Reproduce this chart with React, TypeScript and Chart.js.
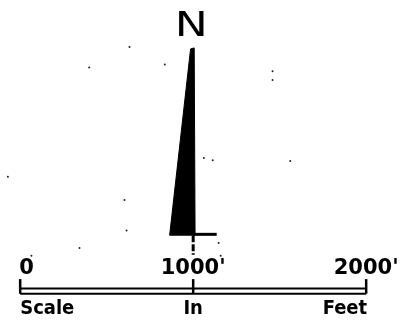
import React, { useEffect, useRef } from "react";
import { Chart, registerables } from "chart.js";

Chart.register(...registerables);

// Units: feet (map scale). 0–2000 ft scale bar.
const scaleTicks = [0, 1000, 2000];
const scaleTickLabels = ["0", "1000'", "2000'"];
const scaleWords = ["Scale", "In", "Feet"];
const barTopFt = 31;
const tickTopFt = 85;
const tickLabelFt = 113;
const wordFt = -119;

// North arrow (feet in map space)
const arrowX = [985, 1006, 1011, 864];
const arrowY = [1422, 1428, 340, 340];
const footX = [1000, 1136];
const footY = [345, 345];
const stemX = [1000, 1000];
const stemY = [340, 227];
const northLabel = "N";
const northX = 989;
const northY = 1496;

// scan specks
const speckX = [632, 399, 836, 1459, 1459, -71, 603, 615, 343, 65, 1113, 1561, 1147, 1159, 1062];
const speckY = [1433, 1314, 1331, 1292, 1241, 680, 544, 368, 266, 221, 776, 771, 295, 221, 788];

const xMin = -93.5;
const xMax = 2184;
const yMin = -170;
const yMax = 1683;

function pts(xs: number[], ys: number[]) {
  return xs.map((x, i) => ({ x, y: ys[i] }));
}

export default function App() {
  const ref = useRef<HTMLCanvasElement | null>(null);
  useEffect(() => {
    document.body.style.margin = "0";
    const canvas = ref.current!;
    const black = "#000";
    const lineDs = (data: any[], width: number, dash: number[] = []) => ({
      type: "scatter" as const,
      data,
      showLine: true,
      borderColor: black,
      borderWidth: width,
      borderDash: dash,
      pointRadius: 0,
      fill: false,
    });
    const datasets: any[] = [
      {
        ...lineDs(pts([...arrowX, arrowX[0]], [...arrowY, arrowY[0]]), 1),
        backgroundColor: black,
        fill: "shape",
      },
      lineDs(pts(footX, footY), 3),
      lineDs(pts(stemX, stemY), 3, [7, 2]),
      lineDs(pts([scaleTicks[0], scaleTicks[2]], [0, 0]), 2),
      lineDs(pts([scaleTicks[0], scaleTicks[2]], [barTopFt, barTopFt]), 2),
      ...scaleTicks.map((t) => lineDs(pts([t, t], [0, tickTopFt]), 2.5)),
      {
        type: "scatter",
        data: pts(speckX, speckY),
        pointRadius: 1,
        borderWidth: 0,
        backgroundColor: "#222",
      },
    ];
    const labelsPlugin = {
      id: "labels",
      afterDatasetsDraw(chart: any) {
        const { ctx, scales } = chart;
        const sx = scales.x, sy = scales.y;
        ctx.save();
        ctx.fillStyle = black;
        ctx.textBaseline = "alphabetic";
        ctx.save();
        ctx.translate(sx.getPixelForValue(northX), sy.getPixelForValue(northY));
        ctx.scale(1.3, 1);
        ctx.font = "34px 'DejaVu Sans'";
        ctx.textAlign = "center";
        ctx.fillText(northLabel, 0, 0);
        ctx.restore();
        ctx.font = "bold 21px 'DejaVu Sans'";
        scaleTicks.forEach((t, i) => {
          ctx.textAlign = i === 0 ? "left" : "center";
          ctx.fillText(scaleTickLabels[i], sx.getPixelForValue(t) - (i === 0 ? 1 : 0), sy.getPixelForValue(tickLabelFt));
        });
        ctx.font = "bold 20px 'DejaVu Sans Condensed', 'DejaVu Sans'";
        const aligns = ["left", "center", "right"];
        scaleTicks.forEach((t, i) => {
          ctx.textAlign = aligns[i];
          ctx.fillText(scaleWords[i], sx.getPixelForValue(t) + (i === 2 ? 1 : 0), sy.getPixelForValue(wordFt));
        });
        ctx.restore();
      },
    };
    const chart = new Chart(canvas, {
      type: "scatter",
      data: { datasets },
      options: {
        animation: false,
        responsive: false,
        events: [],
        layout: { padding: 0 },
        plugins: { legend: { display: false }, tooltip: { enabled: false } },
        scales: {
          x: { type: "linear", display: false, min: xMin, max: xMax },
          y: { type: "linear", display: false, min: yMin, max: yMax },
        },
      },
      plugins: [labelsPlugin],
    });
    return () => chart.destroy();
  }, []);
  return (
    <div style={{ width: 402, height: 327, background: "#fff" }}>
      <canvas ref={ref} width={402} height={327} style={{ display: "block" }} />
    </div>
  );
}
